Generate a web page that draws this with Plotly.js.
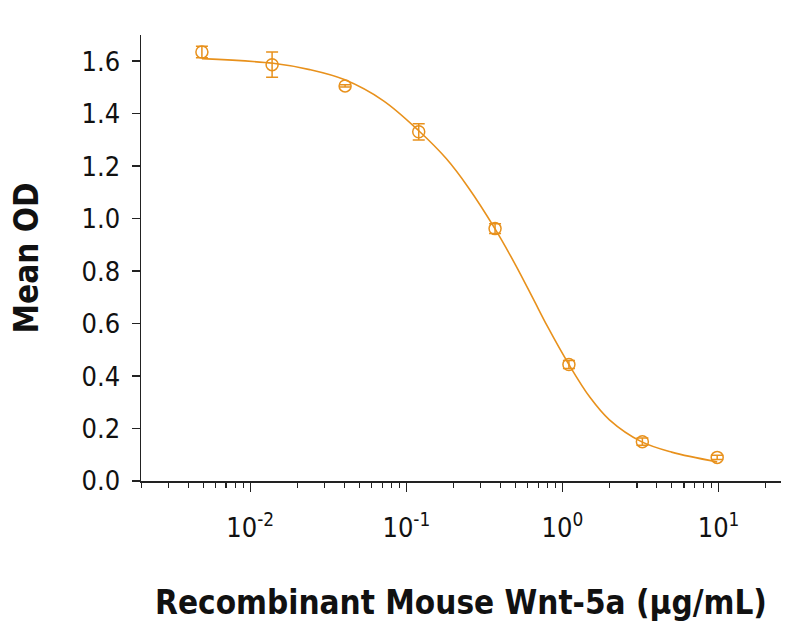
<!DOCTYPE html>
<html>
<head>
<meta charset="utf-8">
<script src="https://cdn.plot.ly/plotly-3.0.1.min.js"></script>
<style>
  html, body { margin: 0; padding: 0; background: #fff; }
  #chart { width: 799px; height: 630px; }
</style>
</head>
<body>
<div id="chart"></div>
<script>
// Measured points (concentration in µg/mL, mean OD, error)
const concentration = [0.0049, 0.0138, 0.0405, 0.12, 0.37, 1.1, 3.25, 9.8];
const meanOD = [1.635, 1.587, 1.506, 1.331, 0.962, 0.444, 0.150, 0.090];
const odError = [0.022, 0.048, 0.004, 0.031, 0.019, 0.015, 0.014, 0.008];

// Fitted curve
const curveX = [0.0049, 0.014, 0.024, 0.04, 0.071, 0.12, 0.18, 0.25, 0.37, 0.5, 0.65, 0.8, 1.1, 1.5, 2.0, 3.2, 5.0, 9.8];
const curveY = [1.610, 1.592, 1.568, 1.530, 1.450, 1.335, 1.229, 1.118, 0.961, 0.824, 0.694, 0.590, 0.444, 0.319, 0.233, 0.150, 0.110, 0.073];

const xTickVals = [0.01, 0.1, 1, 10];
const xTickText = ['10<sup>-2</sup>', '10<sup>-1</sup>', '10<sup>0</sup>', '10<sup>1</sup>'];
const yTickVals = [0, 0.2, 0.4, 0.6, 0.8, 1.0, 1.2, 1.4, 1.6];
const yTickText = ['0.0', '0.2', '0.4', '0.6', '0.8', '1.0', '1.2', '1.4', '1.6'];

const orange = '#E8911C';
const font = '"DejaVu Sans Condensed", "Liberation Sans Narrow", Roboto, sans-serif';

const minorVals = [];
[0.001, 0.01, 0.1, 1, 10].forEach(d => {
  for (let k = 2; k <= 9; k++) minorVals.push(d * k);
});

const traces = [
  {
    x: curveX, y: curveY, type: 'scatter', mode: 'lines',
    line: { color: orange, width: 1.6, shape: 'spline', smoothing: 1 },
    hoverinfo: 'skip'
  },
  {
    x: concentration, y: meanOD, type: 'scatter', mode: 'markers',
    marker: { symbol: 'circle-open', size: 12, color: orange, line: { width: 1.5, color: orange } },
    error_y: { type: 'data', array: odError, visible: true, color: orange, thickness: 1.5, width: 6 }
  }
];

const layout = {
  width: 799, height: 630,
  margin: { l: 141, r: 18, t: 35, b: 149 },
  paper_bgcolor: '#fff', plot_bgcolor: '#fff',
  showlegend: false,
  font: { family: font, color: '#111' },
  xaxis: {
    type: 'log', range: [-2.7, 1.4],
    tickmode: 'array', tickvals: xTickVals, ticktext: xTickText,
    ticks: 'outside', ticklen: 9, tickwidth: 1.5, tickcolor: '#222',
    ticklabelstandoff: 13,
    minor: { tickmode: 'array', tickvals: minorVals, ticks: 'outside', ticklen: 5, tickwidth: 1.2, tickcolor: '#222', showgrid: false },
    showline: true, linecolor: '#222', linewidth: 1.5,
    showgrid: false, zeroline: false,
    tickfont: { family: font, size: 27, color: '#111' },
    title: { text: '<b>Recombinant Mouse Wnt-5a (μg/mL)</b>', font: { family: font, size: 33, color: '#111' }, standoff: 49 }
  },
  yaxis: {
    range: [0, 1.7],
    tickmode: 'array', tickvals: yTickVals, ticktext: yTickText,
    ticks: 'outside', ticklen: 8, tickwidth: 1.5, tickcolor: '#222',
    ticklabelstandoff: 6,
    showline: true, linecolor: '#222', linewidth: 1.5,
    showgrid: false, zeroline: false,
    tickfont: { family: font, size: 27, color: '#111' },
    title: { text: '<b>Mean OD</b>', font: { family: font, size: 33, color: '#111' }, standoff: 33 }
  }
};

Plotly.newPlot('chart', traces, layout, { displayModeBar: false, staticPlot: true });
</script>
</body>
</html>
